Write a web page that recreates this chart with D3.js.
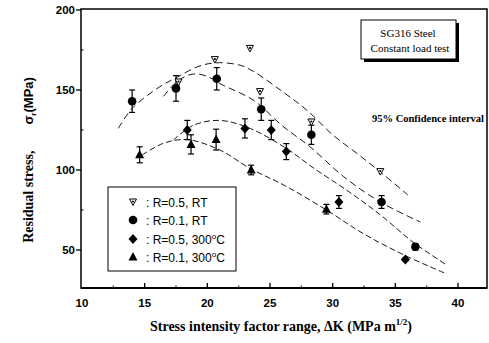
<!DOCTYPE html>
<html>
<head>
<meta charset="utf-8">
<script src="https://cdn.jsdelivr.net/npm/d3@7"></script>
<style>
  body { margin: 0; background: #fff; }
  svg { display: block; }
</style>
</head>
<body>
<div id="chart"></div>
<script>
// data: [dK, stress, error]
const r05RT = [[17.7, 155], [20.6, 169], [23.4, 176], [24.2, 149], [28.3, 130], [33.8, 99]];
const r01RT = [[14.0, 143, 7], [17.5, 151, 8], [20.75, 157, 7], [24.3, 138, 7], [28.3, 122, 6], [33.9, 80, 4], [36.6, 52, 2]];
const r05HT = [[18.4, 125, 6], [23.0, 126, 6], [25.1, 125, 6], [26.3, 111.5, 5], [30.5, 80, 4], [35.8, 44, 1]];
const r01HT = [[14.6, 109.5, 5], [18.7, 116, 6], [20.7, 119, 6.5], [23.5, 100, 3], [29.5, 75.5, 3]];

// dashed confidence curves
const band1 = [[12.9, 126], [14.0, 138.5], [16.2, 152], [17.6, 158], [19.2, 164.5], [20.7, 167], [22.6, 165.5], [23.7, 161.5], [26, 149], [28, 137], [30, 122], [32, 110], [34, 97.5], [36, 84.4]];
const band2 = [[16.5, 146], [17.7, 156], [18.9, 160], [20, 158.5], [21, 154], [23.7, 143.5], [26, 127.5], [28.2, 114.5], [30.85, 96], [33.8, 80], [37, 67.5]];
const band3 = [[17.3, 118.75], [18.9, 128], [21, 131], [23.4, 126], [26.2, 114], [28.7, 100], [31.1, 87.5], [33.8, 72], [36.4, 55], [39.1, 40.6]];
const band4 = [[14.8, 109.4], [16.5, 116.7], [18.4, 119], [21, 112.5], [23.4, 101], [26.1, 90.6], [29.5, 75], [32.5, 60], [35.8, 46.5], [39.0, 35.4]];

const xTicks = [10, 15, 20, 25, 30, 35, 40];
const xMinor = [12.5, 17.5, 22.5, 27.5, 32.5, 37.5];
const yTicks = [50, 100, 150, 200];
const yMinor = [75, 125, 175];
const legendLabels = [": R=0.5, RT", ": R=0.1, RT", ": R=0.5, 300", ": R=0.1, 300"];

const W = 489, H = 343;
const svg = d3.select("#chart").append("svg").attr("width", W).attr("height", H);

const x = d3.scaleLinear().domain([10, 40]).range([82, 458]);
const y = d3.scaleLinear().domain([50, 200]).range([250, 10]);

const frame = { left: 81, top: 9, right: 487, bottom: 288 };
const sans = "'Liberation Sans', Arial, sans-serif";
const serif = "'Liberation Serif', 'Times New Roman', serif";

// frame
svg.append("rect")
    .attr("x", frame.left).attr("y", frame.top)
    .attr("width", frame.right - frame.left).attr("height", frame.bottom - frame.top)
    .attr("fill", "none").attr("stroke", "#000").attr("stroke-width", 1.5);
svg.append("line")
    .attr("x1", frame.left).attr("x2", frame.right)
    .attr("y1", frame.bottom).attr("y2", frame.bottom)
    .attr("stroke", "#000").attr("stroke-width", 2.2);

// x ticks (inward)
svg.selectAll(".xt").data(xTicks.slice(1)).enter().append("line")
    .attr("x1", d => x(d)).attr("x2", d => x(d))
    .attr("y1", frame.bottom).attr("y2", frame.bottom - 5)
    .attr("stroke", "#000").attr("stroke-width", 1.3);
svg.selectAll(".xm").data(xMinor).enter().append("line")
    .attr("x1", d => x(d)).attr("x2", d => x(d))
    .attr("y1", frame.bottom).attr("y2", frame.bottom - 2.5)
    .attr("stroke", "#000").attr("stroke-width", 1);
svg.selectAll(".xl").data(xTicks).enter().append("text")
    .attr("x", d => x(d)).attr("y", 307)
    .attr("text-anchor", "middle")
    .style("font-family", sans).style("font-size", "11.5px").style("font-weight", "bold")
    .text(d => d);

// y ticks (major outward, minor inward)
svg.selectAll(".yt").data(yTicks).enter().append("line")
    .attr("x1", frame.left - 5).attr("x2", frame.left)
    .attr("y1", d => y(d)).attr("y2", d => y(d))
    .attr("stroke", "#000").attr("stroke-width", 1.3);
svg.selectAll(".ym").data(yMinor).enter().append("line")
    .attr("x1", frame.left).attr("x2", frame.left + 2.5)
    .attr("y1", d => y(d)).attr("y2", d => y(d))
    .attr("stroke", "#000").attr("stroke-width", 1);
svg.selectAll(".yl").data(yTicks).enter().append("text")
    .attr("x", 75).attr("y", d => y(d) + 4)
    .attr("text-anchor", "end")
    .style("font-family", sans).style("font-size", "11.5px").style("font-weight", "bold")
    .text(d => d);

// confidence curves
const line = d3.line().x(d => x(d[0])).y(d => y(d[1])).curve(d3.curveCatmullRom);
[band1, band2, band3, band4].forEach((b, i) => {
    svg.append("path")
        .attr("d", line(b))
        .attr("fill", "none")
        .attr("stroke", "#000")
        .attr("stroke-width", 0.9)
        .attr("stroke-dasharray", i < 2 ? "7,4" : "6,3");
});

// error bars
function errorBars(data) {
    const g = svg.append("g").attr("stroke", "#000").attr("stroke-width", 1.2);
    data.forEach(d => {
        const cx = x(d[0]), top = y(d[1] + d[2]), bot = y(d[1] - d[2]);
        g.append("line").attr("x1", cx).attr("x2", cx).attr("y1", top).attr("y2", bot);
        g.append("line").attr("x1", cx - 3).attr("x2", cx + 3).attr("y1", top).attr("y2", top);
        g.append("line").attr("x1", cx - 3).attr("x2", cx + 3).attr("y1", bot).attr("y2", bot);
    });
}
errorBars(r01RT);
errorBars(r05HT);
errorBars(r01HT);

// marker drawers
function drawMarker(g, type, cx, cy) {
    if (type === "down") {
        g.append("path")
            .attr("d", `M${cx - 3.5},${cy - 3} L${cx + 3.5},${cy - 3} L${cx},${cy + 3.5} Z`)
            .attr("fill", "#fff").attr("stroke", "#000").attr("stroke-width", 1);
        g.append("circle").attr("cx", cx).attr("cy", cy - 0.5).attr("r", 1.1).attr("fill", "#000");
    } else if (type === "circle") {
        g.append("circle").attr("cx", cx).attr("cy", cy).attr("r", 4.3).attr("fill", "#000");
    } else if (type === "diamond") {
        g.append("path")
            .attr("d", `M${cx},${cy - 5} L${cx + 4.5},${cy} L${cx},${cy + 5} L${cx - 4.5},${cy} Z`)
            .attr("fill", "#000");
    } else {
        g.append("path")
            .attr("d", `M${cx},${cy - 5} L${cx + 4.5},${cy + 3.5} L${cx - 4.5},${cy + 3.5} Z`)
            .attr("fill", "#000");
    }
}

const marks = svg.append("g");
r05RT.forEach(d => drawMarker(marks, "down", x(d[0]), y(d[1])));
r01RT.forEach(d => drawMarker(marks, "circle", x(d[0]), y(d[1])));
r05HT.forEach(d => drawMarker(marks, "diamond", x(d[0]), y(d[1])));
r01HT.forEach(d => drawMarker(marks, "up", x(d[0]), y(d[1])));

// legend
const legend = svg.append("g");
legend.append("rect")
    .attr("x", 108).attr("y", 187).attr("width", 128).attr("height", 84)
    .attr("fill", "#fff").attr("stroke", "#000").attr("stroke-width", 1);
const legendTypes = ["down", "circle", "diamond", "up"];
const legendY = [202, 220, 239, 257];
legendLabels.forEach((lab, i) => {
    drawMarker(legend, legendTypes[i], 133, legendY[i]);
    const t = legend.append("text")
        .attr("x", 146).attr("y", legendY[i] + 4.5)
        .style("font-family", sans).style("font-size", "12px")
        .text(lab);
    if (i >= 2) {
        t.append("tspan").attr("dy", -5).style("font-size", "8px").text("o");
        t.append("tspan").attr("dy", 5).text("C");
    }
});

// title box with shadow
svg.append("rect").attr("x", 364).attr("y", 23).attr("width", 95).attr("height", 39).attr("fill", "#000");
svg.append("rect").attr("x", 361).attr("y", 20).attr("width", 95).attr("height", 39)
    .attr("fill", "#fff").attr("stroke", "#000").attr("stroke-width", 1);
svg.append("text").attr("x", 408).attr("y", 37).attr("text-anchor", "middle")
    .style("font-family", serif).style("font-size", "11px").text("SG316 Steel");
svg.append("text").attr("x", 410).attr("y", 52).attr("text-anchor", "middle")
    .style("font-family", serif).style("font-size", "11px").text("Constant load test");

svg.append("text").attr("x", 372).attr("y", 122)
    .style("font-family", serif).style("font-size", "10.5px").style("font-weight", "bold")
    .text("95% Confidence interval");

// axis titles
const xt = svg.append("text").attr("x", 150).attr("y", 331)
    .style("font-family", serif).style("font-size", "14px").style("font-weight", "bold")
    .text("Stress intensity factor range, \u0394K (MPa m");
xt.append("tspan").attr("dy", -6).style("font-size", "9px").text("1/2");
xt.append("tspan").attr("dy", 6).text(")");

const yt = svg.append("text")
    .attr("transform", "translate(33,160) rotate(-90)")
    .attr("text-anchor", "middle")
    .style("font-family", serif).style("font-size", "14px").style("font-weight", "bold")
    .text("Residual stress,");
yt.append("tspan").style("font-family", sans).style("font-size", "13px").text("\u2003\u2003\u03C3");
yt.append("tspan").attr("dy", 3).style("font-family", sans).style("font-size", "8px").text("r");
yt.append("tspan").attr("dy", -3).style("font-family", sans).style("font-size", "13px").text("(MPa)");
</script>
</body>
</html>
